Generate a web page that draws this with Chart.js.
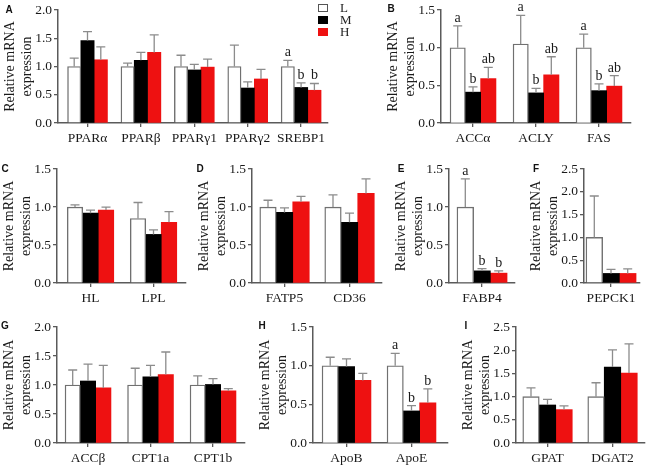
<!DOCTYPE html>
<html>
<head>
<meta charset="utf-8">
<script src="https://cdn.jsdelivr.net/npm/chart.js@4"></script>
<style>
  html, body { margin: 0; padding: 0; background: #fff; }
  #fig { position: relative; width: 655px; height: 465px; overflow: hidden; }
  #fig canvas { position: absolute; }
  .plabel { position: absolute; font: bold 10px "Liberation Sans", Arial, sans-serif; color: #111; transform: translate(-50%, -50%); }
  .legend { position: absolute; left: 318px; top: 2px; z-index: 5; font: 13px "Liberation Serif", serif; color: #222; }
  .legend div { height: 12px; line-height: 12px; display: flex; align-items: center; }
  .legend span.box { display: inline-block; width: 8px; height: 6px; margin-right: 12px; }
</style>
</head>
<body>
<div id="fig"></div>
<script>
// series (groups)
const series = ['L', 'M', 'H'];

// A
const catsA = ['PPARα', 'PPARβ', 'PPARγ1', 'PPARγ2', 'SREBP1'];
const valsA = [[1.00, 1.00, 1.00, 1.00, 1.00], [1.46, 1.11, 0.94, 0.62, 0.63], [1.12, 1.25, 0.99, 0.78, 0.58]];
const sdsA  = [[0.15, 0.06, 0.20, 0.38, 0.11], [0.16, 0.14, 0.10, 0.11, 0.08], [0.23, 0.31, 0.14, 0.17, 0.12]];
const sigA  = [['', '', '', '', 'a'], ['', '', '', '', 'b'], ['', '', '', '', 'b']];
// B
const catsB = ['ACCα', 'ACLY', 'FAS'];
const valsB = [[1.00, 1.05, 1.00], [0.41, 0.40, 0.43], [0.59, 0.64, 0.49]];
const sdsB  = [[0.29, 0.38, 0.18], [0.07, 0.06, 0.09], [0.15, 0.24, 0.14]];
const sigB  = [['a', 'a', 'a'], ['b', 'b', 'b'], ['ab', 'ab', 'ab']];
// C
const catsC = ['HL', 'LPL'];
const valsC = [[1.00, 0.85], [0.92, 0.64], [0.96, 0.80]];
const sdsC  = [[0.03, 0.21], [0.04, 0.06], [0.04, 0.14]];
// D
const catsD = ['FATP5', 'CD36'];
const valsD = [[1.00, 1.00], [0.93, 0.80], [1.07, 1.18]];
const sdsD  = [[0.09, 0.16], [0.06, 0.12], [0.07, 0.19]];
// E
const catsE = ['FABP4'];
const valsE = [[1.00], [0.16], [0.13]];
const sdsE  = [[0.37], [0.03], [0.03]];
const sigE  = [['a'], ['b'], ['b']];
// F
const catsF = ['PEPCK1'];
const valsF = [[1.00], [0.21], [0.21]];
const sdsF  = [[0.91], [0.09], [0.10]];
// G
const catsG = ['ACCβ', 'CPT1a', 'CPT1b'];
const valsG = [[1.00, 1.00, 1.00], [1.07, 1.14, 1.01], [0.95, 1.18, 0.90]];
const sdsG  = [[0.26, 0.29, 0.16], [0.29, 0.20, 0.10], [0.39, 0.39, 0.04]];
// H
const catsH = ['ApoB', 'ApoE'];
const valsH = [[1.00, 1.00], [0.99, 0.415], [0.81, 0.52]];
const sdsH  = [[0.11, 0.16], [0.10, 0.07], [0.09, 0.18]];
const sigH  = [['', 'a'], ['', 'b'], ['', 'b']];
// I
const catsI = ['GPAT', 'DGAT2'];
const valsI = [[1.00, 1.00], [0.82, 1.64], [0.72, 1.51]];
const sdsI  = [[0.19, 0.30], [0.12, 0.37], [0.08, 0.63]];

// стили
const fills = ['#ffffff', '#000000', '#ee1111'];
const edges = ['#707070', '#000000', '#ee1111'];
const AXIS = '#5a5a5a';
const SERIF = '"Liberation Serif", "Times New Roman", serif';
const YW = 56, XH = 26, PR = 6;

// раскладка панелей (пиксели)
const rows = [{ top: 8, zero: 123 }, { top: 169, zero: 283 }, { top: 327, zero: 443 }];
const panels = [
  { id: 'A', row: 0, cats: catsA, vals: valsA, sds: sdsA, sig: sigA, max: 2.0, axis: 58,  right: 328, c0: 87.5,  pitch: 53.4, bw: 13.3, lx: 9,   ly: 9 },
  { id: 'B', row: 0, cats: catsB, vals: valsB, sds: sdsB, sig: sigB, max: 1.5, axis: 441, right: 631, c0: 473,   pitch: 63,   bw: 15.3, lx: 391, ly: 8 },
  { id: 'C', row: 1, cats: catsC, vals: valsC, sds: sdsC, sig: null, max: 1.5, axis: 57,  right: 186, c0: 90.5,  pitch: 63,   bw: 15.5, lx: 5,   ly: 168 },
  { id: 'D', row: 1, cats: catsD, vals: valsD, sds: sdsD, sig: null, max: 1.5, axis: 252, right: 382, c0: 284.5, pitch: 65,   bw: 16.5, lx: 200, ly: 168 },
  { id: 'E', row: 1, cats: catsE, vals: valsE, sds: sdsE, sig: sigE, max: 1.5, axis: 449, right: 515, c0: 482,   pitch: 60,   bw: 16.7, lx: 401, ly: 168 },
  { id: 'F', row: 1, cats: catsF, vals: valsF, sds: sdsF, sig: null, max: 2.5, axis: 584, right: 640, c0: 611,   pitch: 60,   bw: 16.7, lx: 536, ly: 168 },
  { id: 'G', row: 2, cats: catsG, vals: valsG, sds: sdsG, sig: null, max: 2.0, axis: 57,  right: 245, c0: 88,    pitch: 62.5, bw: 15.3, lx: 5,   ly: 325 },
  { id: 'H', row: 2, cats: catsH, vals: valsH, sds: sdsH, sig: sigH, max: 1.5, axis: 313, right: 448, c0: 346.5, pitch: 65,   bw: 16.3, lx: 262, ly: 325 },
  { id: 'I', row: 2, cats: catsI, vals: valsI, sds: sdsI, sig: null, max: 2.5, axis: 516, right: 645, c0: 547.5, pitch: 65,   bw: 16.5, lx: 466, ly: 325 }
];

// усы (только вверх) и буквы значимости
const errorBars = {
  id: 'errorBars',
  afterDatasetsDraw(chart) {
    const ctx = chart.ctx, ys = chart.scales.y;
    chart.data.datasets.forEach((ds, k) => {
      chart.getDatasetMeta(k).data.forEach((bar, i) => {
        const top = ys.getPixelForValue(ds.data[i].y + ds.sd[i]);
        ctx.save();
        ctx.strokeStyle = '#8c8c8c';
        ctx.lineWidth = 1.3;
        ctx.beginPath();
        ctx.moveTo(bar.x, bar.y);
        ctx.lineTo(bar.x, top);
        ctx.moveTo(bar.x - 4.5, top);
        ctx.lineTo(bar.x + 4.5, top);
        ctx.stroke();
        if (ds.sig && ds.sig[i]) {
          ctx.fillStyle = '#1a1a1a';
          ctx.font = '14px ' + SERIF;
          ctx.textAlign = 'center';
          ctx.textBaseline = 'alphabetic';
          ctx.fillText(ds.sig[i], bar.x, top - 4);
        }
        ctx.restore();
      });
    });
  }
};

const fig = document.getElementById('fig');

panels.forEach(p => {
  const r = rows[p.row];
  const pt = Math.min(r.top, 10);
  const xmin = (p.axis - p.c0) / p.pitch;
  const xmax = (p.right - p.c0) / p.pitch;
  const c = document.createElement('canvas');
  const w = YW + (p.right - p.axis) + PR;
  const h = pt + (r.zero - r.top) + XH;
  c.width = w; c.height = h;
  c.style.left = (p.axis - YW) + 'px';
  c.style.top = (r.top - pt) + 'px';
  fig.appendChild(c);

  const lab = document.createElement('div');
  lab.className = 'plabel';
  lab.textContent = p.id;
  lab.style.left = p.lx + 'px';
  lab.style.top = p.ly + 'px';
  fig.appendChild(lab);

  new Chart(c.getContext('2d'), {
    type: 'bar',
    data: {
      datasets: series.map((s, k) => ({
        label: s,
        data: p.vals[k].map((v, i) => ({ x: i, y: v })),
        sd: p.sds[k],
        sig: p.sig ? p.sig[k] : null,
        backgroundColor: fills[k],
        borderColor: edges[k],
        borderWidth: k === 0 ? 1.4 : 0,
        barThickness: p.bw
      }))
    },
    options: {
      responsive: false,
      animation: false,
      layout: { padding: { top: pt, right: PR, left: 0, bottom: 0 } },
      plugins: { legend: { display: false }, tooltip: { enabled: false } },
      scales: {
        x: {
          type: 'linear',
          offset: false,
          bounds: 'data',
          min: xmin,
          max: xmax,
          // категории стоят в 0..n-1, диапазон оси задан жёстко
          afterBuildTicks: s => {
            s.ticks = p.cats.map((_, i) => ({ value: i }));
            s.min = xmin;
            s.max = xmax;
          },
          afterFit: s => { s.height = XH; },
          grid: { offset: false, drawOnChartArea: false, drawTicks: true, tickLength: 4, color: AXIS, lineWidth: 1.3 },
          border: { color: AXIS, width: 1.5 },
          ticks: {
            autoSkip: false, maxRotation: 0, padding: 3,
            color: '#1a1a1a', font: { family: SERIF, size: 13.5 },
            callback: v => p.cats[v]
          }
        },
        y: {
          min: 0, max: p.max,
          afterFit: s => { s.width = YW; },
          grid: { drawOnChartArea: false, drawTicks: true, tickLength: 4, color: AXIS, lineWidth: 1.3 },
          border: { color: AXIS, width: 1.5 },
          ticks: {
            stepSize: 0.5, padding: 2,
            color: '#1a1a1a', font: { family: SERIF, size: 13.5 },
            callback: v => v.toFixed(1)
          },
          title: {
            display: true, text: ['Relative mRNA', 'expression'], padding: 0,
            color: '#1a1a1a', font: { family: SERIF, size: 14 }
          }
        }
      }
    },
    plugins: [errorBars]
  });
});

// легенда
const leg = document.createElement('div');
leg.className = 'legend';
series.forEach((s, k) => {
  const row = document.createElement('div');
  row.innerHTML = `<span class="box" style="background:${fills[k]};border:1px solid ${k === 0 ? '#555' : fills[k]}"></span>${s}`;
  leg.appendChild(row);
});
fig.appendChild(leg);
</script>
</body>
</html>
